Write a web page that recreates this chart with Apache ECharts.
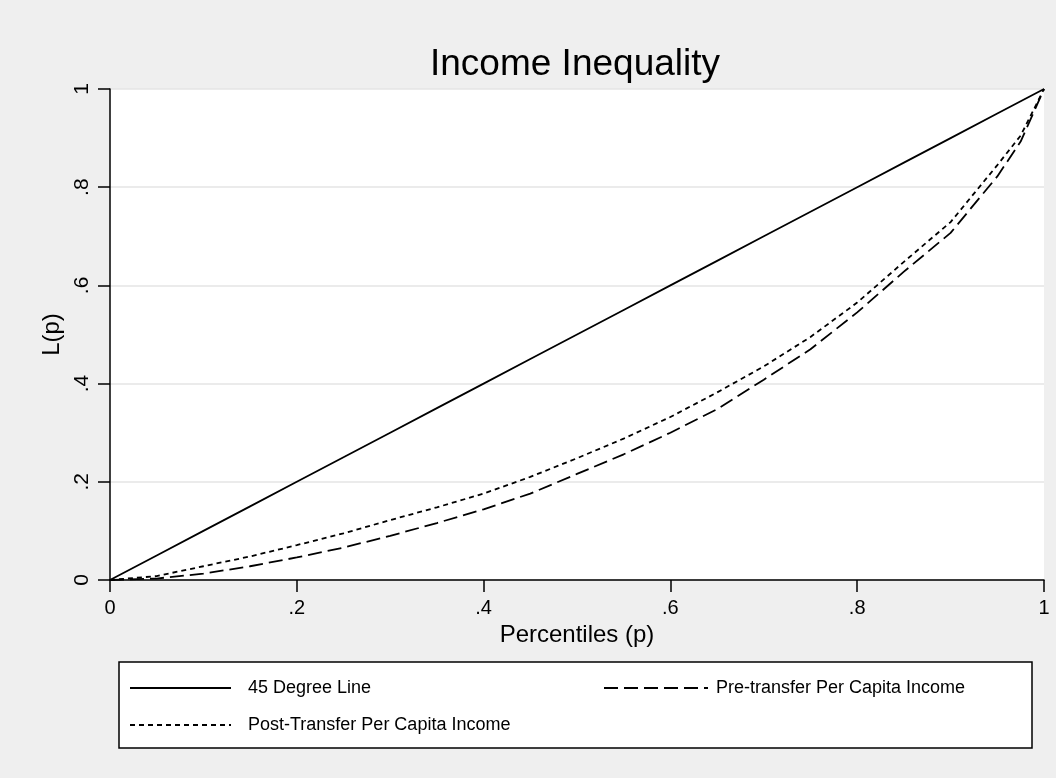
<!DOCTYPE html>
<html>
<head>
<meta charset="utf-8">
<title>Income Inequality</title>
<script src="https://cdn.jsdelivr.net/npm/echarts@6/dist/echarts.min.js"></script>
<style>
  html, body { margin: 0; padding: 0; background: #efefef; }
  #chart { width: 1056px; height: 778px; }
</style>
</head>
<body>
<div id="chart"></div>
<script>
// percentiles (p) and the Lorenz ordinates
const percentiles = [0, 0.05, 0.1, 0.15, 0.2, 0.25, 0.3, 0.35, 0.4, 0.45, 0.5,
  0.55, 0.6, 0.65, 0.7, 0.75, 0.8, 0.85, 0.9, 0.95, 0.975, 1];
const equality = [0, 0.05, 0.1, 0.15, 0.2, 0.25, 0.3, 0.35, 0.4, 0.45, 0.5,
  0.55, 0.6, 0.65, 0.7, 0.75, 0.8, 0.85, 0.9, 0.95, 0.975, 1];
const preTransfer = [0, 0.003, 0.013, 0.028, 0.046, 0.066, 0.09, 0.116, 0.144, 0.176, 0.216,
  0.256, 0.300, 0.348, 0.408, 0.470, 0.545, 0.628, 0.707, 0.822, 0.893, 1];
const postTransfer = [0, 0.008, 0.028, 0.048, 0.071, 0.095, 0.122, 0.148, 0.176, 0.21, 0.248,
  0.288, 0.332, 0.382, 0.435, 0.495, 0.565, 0.648, 0.729, 0.845, 0.905, 1];

const seriesNames = ['45 Degree Line', 'Pre-transfer Per Capita Income', 'Post-Transfer Per Capita Income'];

const font = "'Liberation Sans', Arial, sans-serif";
const pairs = ys => percentiles.map((p, i) => [p, ys[i]]);
// Stata style labels: 0, .2, .4 ... 1
const tickLabel = v => {
  if (Math.abs(v) < 1e-9) return '0';
  if (Math.abs(v - 1) < 1e-9) return '1';
  return v.toFixed(1).replace(/^0/, '');
};

const chart = echarts.init(document.getElementById('chart'));

const lineSeries = (name, ys, dash) => ({
  name: name,
  type: 'line',
  data: pairs(ys),
  symbol: 'none',
  smooth: false,
  lineStyle: { color: '#000', width: 1.8, type: dash },
  itemStyle: { color: '#000' },
  z: 3
});

const legendBase = {
  orient: 'horizontal',
  padding: 0,
  itemHeight: 14,
  selectedMode: false,
  z: 5,
  // hide the marker circle, keep only the line sample
  itemStyle: { opacity: 0 },
  textStyle: { color: '#000', fontSize: 18, fontFamily: font }
};

const option = {
  backgroundColor: '#efefef',
  animation: false,
  title: {
    text: 'Income Inequality',
    left: 430,
    top: 46,
    padding: 0,
    textStyle: { color: '#000', fontSize: 37, fontWeight: 'normal', fontFamily: font }
  },
  grid: {
    left: 110,
    top: 89,
    width: 934,
    height: 491,
    show: true,
    backgroundColor: '#fff',
    borderWidth: 0
  },
  xAxis: {
    type: 'value',
    min: 0,
    max: 1,
    interval: 0.2,
    name: 'Percentiles (p)',
    nameLocation: 'middle',
    nameGap: 39,
    nameTextStyle: { color: '#000', fontSize: 24, fontFamily: font },
    axisLine: { lineStyle: { color: '#000', width: 1.5 } },
    axisTick: { length: 12, lineStyle: { color: '#000', width: 1.5 } },
    axisLabel: { margin: 18, color: '#000', fontSize: 20, fontFamily: font, formatter: tickLabel },
    splitLine: { show: false }
  },
  yAxis: {
    type: 'value',
    min: 0,
    max: 1,
    interval: 0.2,
    name: 'L(p)',
    nameLocation: 'middle',
    nameGap: 46,
    nameTextStyle: { color: '#000', fontSize: 24, fontFamily: font },
    axisLine: { show: true, lineStyle: { color: '#000', width: 1.5 } },
    axisTick: { show: true, length: 12, lineStyle: { color: '#000', width: 1.5 } },
    axisLabel: { rotate: 90, margin: 17, color: '#000', fontSize: 21, fontFamily: font, formatter: tickLabel },
    splitLine: { show: true, lineStyle: { color: '#e4e4e4', width: 1.5 } }
  },
  legend: [
    Object.assign({}, legendBase, {
      data: [seriesNames[0]], left: 129, top: 679, itemWidth: 101,
      textStyle: Object.assign({}, legendBase.textStyle, { padding: [0, 0, 0, 12] })
    }),
    Object.assign({}, legendBase, {
      data: [seriesNames[1]], left: 603, top: 679, itemWidth: 104,
      textStyle: Object.assign({}, legendBase.textStyle, { padding: [0, 0, 0, 3] })
    }),
    Object.assign({}, legendBase, {
      data: [seriesNames[2]], left: 129, top: 716, itemWidth: 101,
      textStyle: Object.assign({}, legendBase.textStyle, { padding: [0, 0, 0, 12] })
    })
  ],
  graphic: [{
    type: 'rect',
    z: 1,
    shape: { x: 119, y: 662, width: 913, height: 86 },
    style: { fill: '#fff', stroke: '#000', lineWidth: 1.5 }
  }],
  series: [
    lineSeries(seriesNames[0], equality, 'solid'),
    lineSeries(seriesNames[1], preTransfer, [14, 6]),
    lineSeries(seriesNames[2], postTransfer, [5, 4])
  ]
};

chart.setOption(option);
window.addEventListener('resize', () => chart.resize());
</script>
</body>
</html>
